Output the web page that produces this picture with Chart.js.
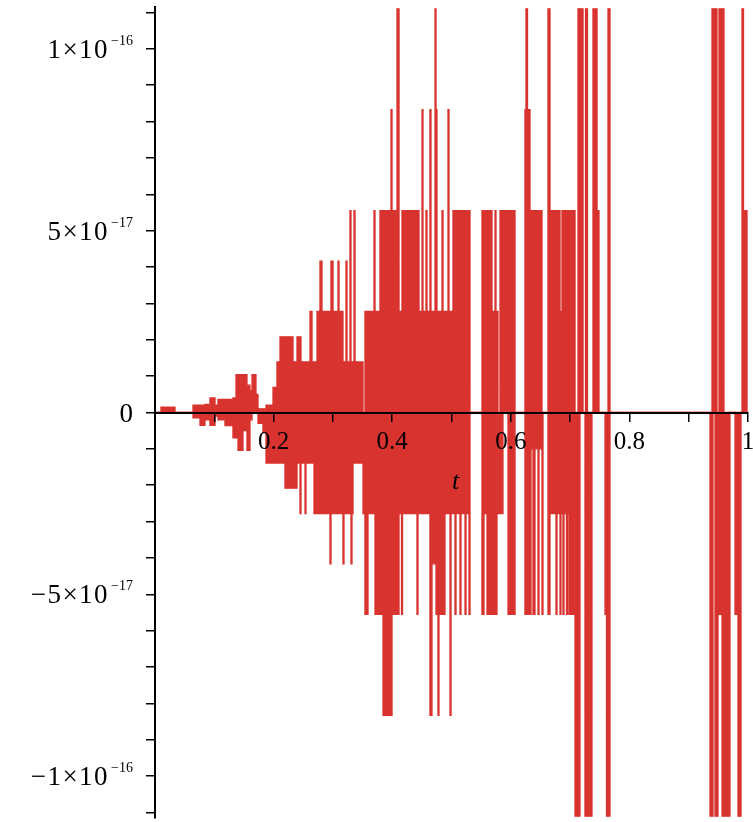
<!DOCTYPE html>
<html>
<head>
<meta charset="utf-8">
<script src="https://cdn.jsdelivr.net/npm/chart.js@4.4.1/dist/chart.umd.min.js"></script>
<style>
  body { margin: 0; background: #fff; }
  canvas { display: block; }
</style>
</head>
<body>
<canvas id="chart" width="753" height="822"></canvas>
<script>
// values, y in units of 1e-17
// upper edge of the red trace (step levels, each value holds until the next t)
const upperT = [0, 0.0101, 0.0337, 0.0641, 0.0843, 0.0927, 0.1012, 0.1062, 0.1315, 0.1366,
	0.1551, 0.1602, 0.1636, 0.1703, 0.1737, 0.1872, 0.1990, 0.2057, 0.2108, 0.2327,
	0.2395, 0.2462, 0.2614, 0.2648, 0.2732, 0.2782, 0.2816, 0.2968, 0.3002, 0.3086,
	0.3103, 0.3170, 0.3221, 0.3238, 0.3288, 0.3305, 0.3356, 0.3373, 0.3508, 0.3541,
	0.3693, 0.3710, 0.3794, 0.3980, 0.3997, 0.4081, 0.4115, 0.4165, 0.4418, 0.4435,
	0.4452, 0.4503, 0.4519, 0.4570, 0.4587, 0.4637, 0.4654, 0.4722, 0.4739, 0.4755,
	0.4840, 0.4857, 0.4941, 0.4958, 0.5025, 0.5312, 0.5514, 0.5683, 0.5734, 0.5750,
	0.5784, 0.5818, 0.6071, 0.6239, 0.6256, 0.6282, 0.6324, 0.6526, 0.6627, 0.6661,
	0.6830, 0.6863, 0.7083, 0.7133, 0.7218, 0.7260, 0.7293, 0.7386, 0.7454, 0.7487,
	0.7639, 0.7673, 0.9393, 0.9477, 0.9511, 0.9595, 0.9899, 0.9924, 0.9983, 1.0];
const upperY = [0, 0.15, 0, 0.2, 0.22, 0.4, 0.2, 0.36, 0.4, 1.04,
	0.75, 0.6, 1.04, 0.5, 0.1, 0.2, 0.69, 1.39, 2.08, 1.39,
	2.08, 1.39, 2.78, 1.39, 2.78, 4.16, 2.78, 4.16, 2.78, 4.16,
	2.78, 1.39, 4.16, 1.39, 5.55, 1.39, 5.55, 1.39, 0, 2.78,
	5.55, 2.78, 5.55, 8.33, 5.55, 11.1, 2.78, 5.55, 2.78, 5.55,
	2.78, 8.33, 2.78, 5.55, 2.78, 8.33, 2.78, 11.1, 8.33, 2.78,
	5.55, 2.78, 8.33, 2.78, 5.55, 0, 5.55, 2.78, 5.55, 2.78,
	0, 5.55, 0, 8.33, 11.1, 8.33, 5.55, 0, 11.1, 5.55,
	2.78, 5.55, 0, 11.1, 0, 11.1, 0, 11.1, 5.55, 0,
	11.1, 0, 11.1, 0, 11.1, 0, 11.1, 5.55, 0, 0];

// lower edge of the red trace
const lowerT = [0, 0.0641, 0.0759, 0.0843, 0.0927, 0.1012, 0.1062, 0.1180, 0.1315, 0.1400,
	0.1484, 0.1551, 0.1602, 0.1636, 0.1737, 0.1821, 0.1872, 0.2192, 0.2395, 0.2445,
	0.2462, 0.2530, 0.2546, 0.2681, 0.2951, 0.2968, 0.3170, 0.3187, 0.3305, 0.3322,
	0.3339, 0.3508, 0.3541, 0.3592, 0.3710, 0.3845, 0.3997, 0.4081, 0.4098, 0.4115,
	0.4157, 0.4174, 0.4418, 0.4435, 0.4637, 0.4671, 0.4739, 0.4755, 0.4772, 0.4789,
	0.4890, 0.4975, 0.4992, 0.5059, 0.5076, 0.5143, 0.5160, 0.5228, 0.5245, 0.5295,
	0.5312, 0.5514, 0.5548, 0.5599, 0.5767, 0.5868, 0.5953, 0.6071, 0.6239, 0.6341,
	0.6374, 0.6408, 0.6459, 0.6476, 0.6526, 0.6543, 0.6627, 0.6661, 0.6762, 0.6779,
	0.6830, 0.6846, 0.6880, 0.6897, 0.6939, 0.6956, 0.6981, 0.7083, 0.7167, 0.7251,
	0.7302, 0.7319, 0.7369, 0.7589, 0.7614, 0.7673, 0.9359, 0.9410, 0.9444, 0.9494,
	0.9562, 0.9696, 0.9781, 0.9831, 0.9882, 1.0];
const lowerY = [0, -0.15, -0.35, -0.2, -0.35, -0.1, -0.2, -0.36, -0.7, -1.04,
	-0.5, -1.04, -0.2, 0, -0.3, -0.55, -1.39, -2.08, -1.39, -2.78,
	-1.39, -2.78, -1.39, -2.78, -4.16, -2.78, -4.16, -2.78, -4.16, -2.78,
	-1.39, -2.78, -5.55, -2.78, -5.55, -8.33, -5.55, -2.78, -5.55, -2.78,
	-5.55, -2.78, -5.55, -2.78, -8.33, -4.16, -5.55, -4.16, -8.33, -5.55,
	-2.78, -8.33, -2.78, -5.55, -2.78, -5.55, -2.78, -5.55, -2.78, -5.55,
	0, -5.55, -2.78, -5.55, -2.78, 0, -5.55, 0, -5.55, -1.0,
	-5.55, -1.0, -5.55, -1.0, -5.55, 0, -5.55, -2.78, -5.55, -2.78,
	-5.55, -2.78, -5.55, -2.78, -5.55, -2.78, -5.55, -11.1, 0, -11.1,
	0, -11.1, 0, -5.55, -11.1, 0, -11.1, 0, -11.1, -5.55,
	-11.1, 0, -5.55, -11.1, 0, 0];

// axes
const xTicks = [0.1, 0.2, 0.3, 0.4, 0.5, 0.6, 0.7, 0.8, 0.9, 1.0];
const xLabelled = [0.2, 0.4, 0.6, 0.8, 1.0];
const xLabels = ['0.2', '0.4', '0.6', '0.8', '1'];
const yTicksE17 = [-11, -10, -9, -8, -7, -6, -5, -4, -3, -2, -1, 0, 1, 2, 3, 4, 5, 6, 7, 8, 9, 10, 11];
const yLabelE17 = [10, 5, 0, -5, -10];
const yMantissa = ['1', '5', '0', '\u22125', '\u22121'];
const yExponent = ['\u221216', '\u221217', '', '\u221217', '\u221216'];

const RED = '#d9332f';
const SERIF = "'Liberation Serif', 'Times New Roman', serif";

function toPoints(ts, ys) {
	var pts = [];
	for (let i = 0; i < ts.length; i++) {
		pts.push({x: ts[i], y: ys[i] * 1e-17});
	}
	return pts;
}

// draws the y labels with raised exponents and the axis name
const maplelabels = {
	id: 'maplelabels',
	afterDraw(chart) {
		const {ctx, scales: {x, y}} = chart;
		const right = 133;
		ctx.save();
		ctx.fillStyle = '#000';
		ctx.textAlign = 'right';
		ctx.textBaseline = 'alphabetic';
		for (let i = 0; i < yLabelE17.length; i++) {
			const py = y.getPixelForValue(yLabelE17[i] * 1e-17);
			let supW = 0;
			if (yExponent[i]) {
				ctx.font = '14px ' + SERIF;
				ctx.letterSpacing = '0px';
				ctx.fillText(yExponent[i], right, py - 4);
				supW = ctx.measureText(yExponent[i]).width + 2;
				ctx.font = '27px ' + SERIF;
				ctx.letterSpacing = '1.5px';
				ctx.fillText(yMantissa[i] + '\u00d710', right - supW, py + 9);
			} else {
				ctx.font = '27px ' + SERIF;
				ctx.letterSpacing = '0px';
				ctx.fillText(yMantissa[i], right, py + 9);
			}
		}
		ctx.letterSpacing = '0px';
		ctx.textAlign = 'center';
		ctx.font = 'italic 26px ' + SERIF;
		ctx.fillText('t', x.getPixelForValue(0.5) + 4, y.getPixelForValue(0) + 76);
		ctx.restore();
	}
};

var chart = new Chart(document.getElementById('chart'), {
	type: 'line',
	data: {
		datasets: [
			{
				label: 'upper',
				data: toPoints(upperT, upperY),
				borderColor: RED,
				backgroundColor: RED,
				borderWidth: 1.3,
				stepped: 'before',
				fill: 'origin',
				pointRadius: 0,
			},
			{
				label: 'lower',
				data: toPoints(lowerT, lowerY),
				borderColor: RED,
				backgroundColor: RED,
				borderWidth: 1.3,
				stepped: 'before',
				fill: 'origin',
				pointRadius: 0,
			},
		],
	},
	options: {
		responsive: false,
		animation: false,
		events: [],
		layout: {
			padding: {top: 7, bottom: 4, left: 0, right: 5},
		},
		scales: {
			x: {
				type: 'linear',
				position: {y: 0},
				min: 0,
				max: 1,
				afterBuildTicks: (s) => { s.ticks = xTicks.map(v => ({value: v})); },
				afterFit: (s) => { s.paddingLeft = 0; s.paddingRight = 0; },
				grid: {
					drawOnChartArea: false,
					color: '#000',
					lineWidth: 1.5,
					tickLength: 8,
					z: 1,
				},
				border: {color: '#000', width: 2, z: 1},
				ticks: {
					autoSkip: false,
					maxRotation: 0,
					padding: 7,
					color: '#000',
					font: {family: SERIF, size: 25},
					z: 1,
					callback: function(value) {
						const k = xLabelled.findIndex(v => Math.abs(v - value) < 1e-9);
						return k < 0 ? '' : xLabels[k];
					},
				},
			},
			y: {
				type: 'linear',
				position: 'left',
				min: -1.115e-16,
				max: 1.115e-16,
				afterBuildTicks: (s) => { s.ticks = yTicksE17.map(v => ({value: v * 1e-17})); },
				afterFit: (s) => { s.width = 155; },
				grid: {
					drawOnChartArea: false,
					color: '#000',
					lineWidth: 1.5,
					tickLength: 9,
					z: 1,
				},
				border: {color: '#000', width: 2, z: 1},
				ticks: {display: false},
			},
		},
		plugins: {
			legend: {display: false},
			tooltip: {enabled: false},
		},
	},
	plugins: [maplelabels],
});
</script>
</body>
</html>
